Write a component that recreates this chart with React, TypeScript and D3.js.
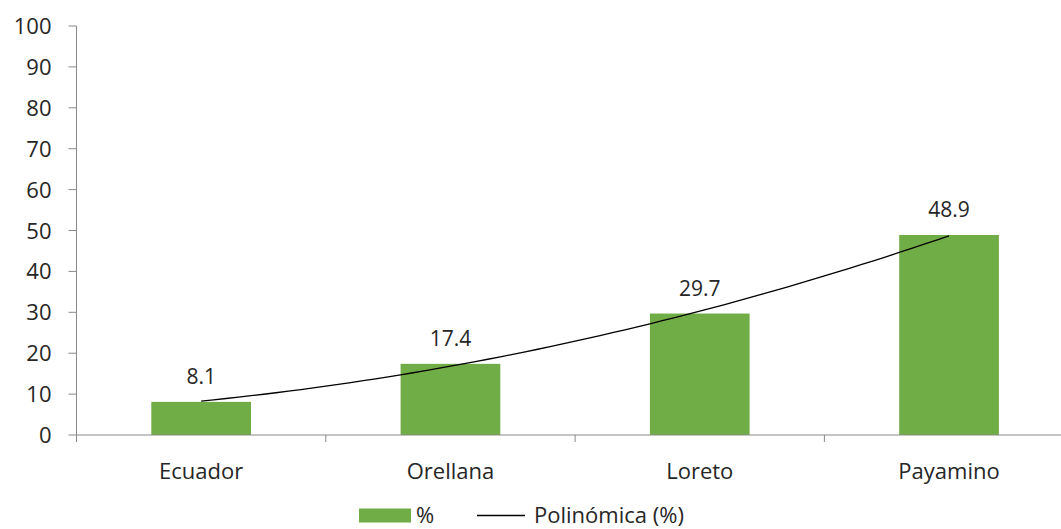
import React from "react";
import * as d3 from "d3";

const categories = ["Ecuador", "Orellana", "Loreto", "Payamino"];
const values = [8.1, 17.4, 29.7, 48.9];
const yTicks = [0, 10, 20, 30, 40, 50, 60, 70, 80, 90, 100];
const seriesName = "%";
const trendName = "Polinómica (%)";

const W = 1061;
const H = 529;
const FONT = "'Open Sans', 'Noto Sans', sans-serif";
const TEXT = "#262626";
const AXIS = "#898989";
const GREEN = "#70AD47";

// least squares quadratic fit (Excel polynomial trendline, order 2)
function quadFit(ys: number[]) {
  const xs = ys.map((_, i) => i + 1);
  const n = xs.length;
  const S = (f: (x: number, y: number) => number) => xs.reduce((a, x, i) => a + f(x, ys[i]), 0);
  const s0 = n, s1 = S((x) => x), s2 = S((x) => x * x), s3 = S((x) => x ** 3), s4 = S((x) => x ** 4);
  const t0 = S((_, y) => y), t1 = S((x, y) => x * y), t2 = S((x, y) => x * x * y);
  const M = [
    [s0, s1, s2, t0],
    [s1, s2, s3, t1],
    [s2, s3, s4, t2],
  ];
  for (let i = 0; i < 3; i++) {
    for (let k = i + 1; k < 3; k++) {
      const f = M[k][i] / M[i][i];
      for (let j = i; j < 4; j++) M[k][j] -= f * M[i][j];
    }
  }
  const c = [0, 0, 0];
  for (let i = 2; i >= 0; i--) {
    let s = M[i][3];
    for (let j = i + 1; j < 3; j++) s -= M[i][j] * c[j];
    c[i] = s / M[i][i];
  }
  return (x: number) => c[0] + c[1] * x + c[2] * x * x;
}

export default function App() {
  const x0 = 76.5;
  const band = 249.3;
  const x = d3
    .scaleBand<string>()
    .domain(categories)
    .range([x0, x0 + band * categories.length])
    .paddingInner(0.6)
    .paddingOuter(0.3);
  const y = d3.scaleLinear().domain([0, 100]).range([435, 26]);
  const fit = quadFit(values);

  const xc = (i: number) => (x(categories[i]) as number) + x.bandwidth() / 2;
  const steps = d3.range(0, 61).map((k) => k / 20 + 1);
  const xi = d3.scaleLinear().domain([1, 4]).range([xc(0), xc(3)]);
  const line = d3
    .line<number>()
    .x((t) => xi(t))
    .y((t) => y(fit(t)))
    .curve(d3.curveLinear);

  const boundaries = d3.range(0, categories.length + 1).map((i) => x0 + i * band);

  return (
    <svg width={W} height={H} style={{ position: "absolute", left: 0, top: 0, background: "#fff" }} fontFamily={FONT}>
      {/* bars */}
      {values.map((v, i) => (
        <rect
          key={categories[i]}
          x={x(categories[i])}
          y={y(v)}
          width={x.bandwidth()}
          height={y(0) - y(v)}
          fill={GREEN}
        />
      ))}
      {/* axes */}
      <line x1={x0} x2={W} y1={y(0)} y2={y(0)} stroke={AXIS} strokeWidth={1} />
      <line x1={x0} x2={x0} y1={y(100)} y2={y(0) + 7} stroke={AXIS} strokeWidth={1} />
      {yTicks.map((t) => (
        <g key={t}>
          <line x1={x0 - 8} x2={x0} y1={y(t)} y2={y(t)} stroke={AXIS} />
          <text x={51.5} y={y(t) + 8} textAnchor="end" fontSize={22} fill={TEXT}>
            {t}
          </text>
        </g>
      ))}
      {boundaries.slice(1).map((b, i) =>
        b < W ? <line key={i} x1={b} x2={b} y1={y(0)} y2={y(0) + 7} stroke={AXIS} /> : null
      )}
      {categories.map((c, i) => (
        <text key={c} x={xc(i)} y={479} textAnchor="middle" fontSize={22} fill={TEXT}>
          {c}
        </text>
      ))}
      {/* trendline */}
      <path d={line(steps) as string} fill="none" stroke="#000" strokeWidth={1.3} />
      {/* data labels */}
      {values.map((v, i) => (
        <text key={i} x={xc(i)} y={y(v) - 18} textAnchor="middle" fontSize={21} fill={TEXT}>
          {v.toFixed(1)}
        </text>
      ))}
      {/* legend */}
      <rect x={359} y={508.5} width={52} height={14} fill={GREEN} />
      <text x={416} y={522.5} fontSize={22} fill={TEXT}>
        {seriesName}
      </text>
      <line x1={477} x2={525} y1={515.5} y2={515.5} stroke="#000" strokeWidth={1.3} />
      <text x={534} y={522.5} fontSize={22} fill={TEXT}>
        {trendName}
      </text>
    </svg>
  );
}
